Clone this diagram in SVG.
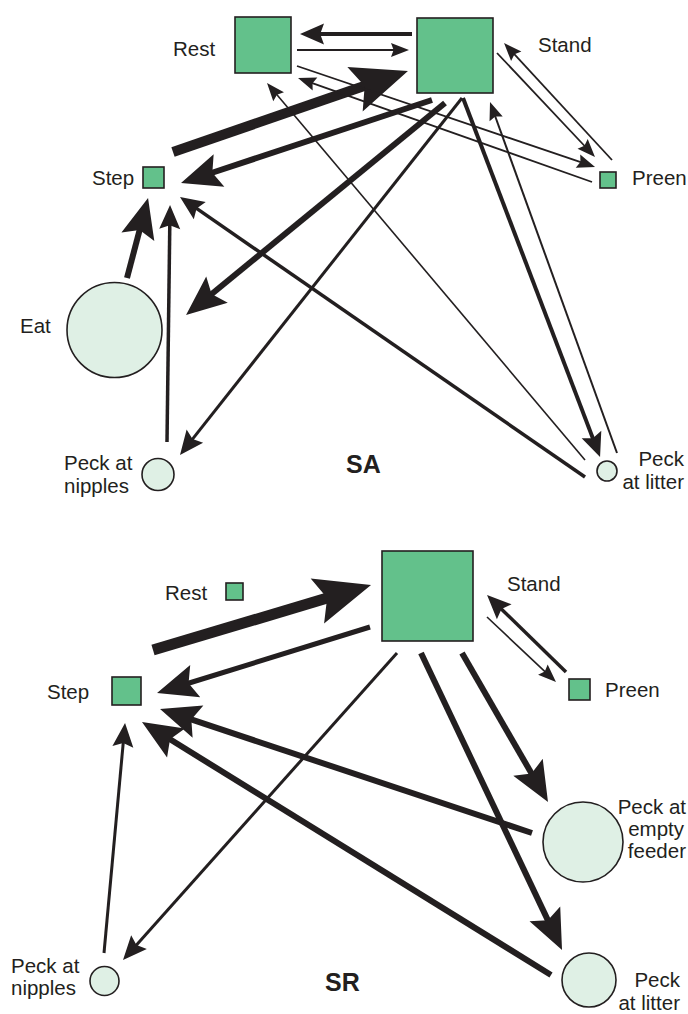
<svg xmlns="http://www.w3.org/2000/svg" width="688" height="1014" viewBox="0 0 688 1014">
<style>
.sq{fill:#63c18b;stroke:#231f20;stroke-width:1.6}
.ci{fill:#dff0e5;stroke:#231f20;stroke-width:1.6}
.lb{font-family:"Liberation Sans",Arial,sans-serif;font-size:20.5px;fill:#231f20}
.ttl{font-family:"Liberation Sans",Arial,sans-serif;font-size:25px;font-weight:bold;fill:#231f20}
.e{text-anchor:end}
.c{fill:none;stroke:#231f20;stroke-linecap:butt}
.h1{marker-end:url(#h1)}
.h2{marker-end:url(#h2)}
.h3{marker-end:url(#h3)}
.h4{marker-end:url(#h4)}
</style>
<defs>
<marker id="h1" markerUnits="userSpaceOnUse" orient="auto" refX="0" refY="0" markerWidth="1" markerHeight="1" overflow="visible"><path d="M44.8,0 L-11.2,-23.5 L-1,0 L-11.2,23.5 Z" fill="#231f20"/></marker>
<marker id="h2" markerUnits="userSpaceOnUse" orient="auto" refX="0" refY="0" markerWidth="1" markerHeight="1" overflow="visible"><path d="M32,0 L-8,-17 L-1,0 L-8,17 Z" fill="#231f20"/></marker>
<marker id="h3" markerUnits="userSpaceOnUse" orient="auto" refX="0" refY="0" markerWidth="1" markerHeight="1" overflow="visible"><path d="M19.2,0 L-4.8,-10.5 L-1,0 L-4.8,10.5 Z" fill="#231f20"/></marker>
<marker id="h4" markerUnits="userSpaceOnUse" orient="auto" refX="0" refY="0" markerWidth="1" markerHeight="1" overflow="visible"><path d="M14.4,0 L-3.6,-7 L-1,0 L-3.6,7 Z" fill="#231f20"/></marker>
</defs>

<g id="connectors">
<!-- SA -->
<path class="c h3" stroke-width="4" d="M412,34 L319.2,34"/>
<path class="c h4" stroke-width="2" d="M297,50 L394.6,50"/>
<path class="c h1" stroke-width="10" d="M173,152 L365.6,85.6"/>
<path class="c h2" stroke-width="6" d="M432,100 L211.4,173"/>
<path class="c h2" stroke-width="6" d="M445,103 L210.8,294.7"/>
<path class="c h3" stroke-width="3" d="M462,98 L191.9,439.9"/>
<path class="c h3" stroke-width="4" d="M463,98 L593.2,439.1"/>
<path class="c h4" stroke-width="2" d="M617,453 L494.9,115.5"/>
<path class="c h4" stroke-width="1.8" d="M497,53 L585.1,146.5"/>
<path class="c h4" stroke-width="1.8" d="M612,160 L513.8,53.6"/>
<path class="c h4" stroke-width="1.8" d="M297,66 L581.4,162.4"/>
<path class="c h4" stroke-width="1.8" d="M592,182 L311.6,82.8"/>
<path class="c h4" stroke-width="1.6" d="M585,460 L276.3,94"/>
<path class="c h3" stroke-width="3.5" d="M585,477 L195.8,207.9"/>
<path class="c h2" stroke-width="6" d="M127,278 L139.9,229"/>
<path class="c h3" stroke-width="3.5" d="M167,442 L169.8,224.2"/>
<!-- SR -->
<path class="c h1" stroke-width="11" d="M153,650 L328.1,597.8"/>
<path class="c h2" stroke-width="5" d="M370,627 L187.6,683.5"/>
<path class="c h2" stroke-width="6" d="M532,833 L190.4,719.1"/>
<path class="c h2" stroke-width="6" d="M551,975 L169.2,738.8"/>
<path class="c h3" stroke-width="3" d="M104,953 L123.3,742.1"/>
<path class="c h3" stroke-width="3" d="M397,653 L135.8,945.7"/>
<path class="c h2" stroke-width="6" d="M421,653 L548.3,921.1"/>
<path class="c h2" stroke-width="6" d="M462,653 L532,774.3"/>
<path class="c h3" stroke-width="3.5" d="M566,672 L500.8,608.4"/>
<path class="c h4" stroke-width="1.6" d="M487,617 L545.5,672.1"/>
</g>

<!-- SA nodes -->
<g id="sa-rest"><rect class="sq" x="235" y="17" width="56" height="56"/><text class="lb" x="173" y="56">Rest</text></g>
<g id="sa-stand"><rect class="sq" x="417" y="18" width="76" height="75"/><text class="lb" x="538" y="52">Stand</text></g>
<g id="sa-preen"><rect class="sq" x="600" y="172" width="16" height="16"/><text class="lb" x="632" y="185">Preen</text></g>
<g id="sa-step"><rect class="sq" x="143" y="167" width="21" height="21"/><text class="lb" x="92" y="185">Step</text></g>
<g id="sa-eat"><circle class="ci" cx="114.5" cy="330" r="47.5"/><text class="lb" x="20" y="333">Eat</text></g>
<g id="sa-nipples"><circle class="ci" cx="158" cy="474.5" r="16"/><text class="lb" x="64" y="470">Peck at</text><text class="lb" x="64" y="493">nipples</text></g>
<g id="sa-litter"><circle class="ci" cx="607" cy="471" r="10"/><text class="lb e" x="684" y="466">Peck</text><text class="lb e" x="684" y="489">at litter</text></g>
<g id="sa-title"><text class="ttl" x="346" y="473">SA</text></g>

<!-- SR nodes -->
<g id="sr-rest"><rect class="sq" x="226" y="583" width="17" height="17"/><text class="lb" x="165" y="600">Rest</text></g>
<g id="sr-stand"><rect class="sq" x="382" y="551" width="91" height="90"/><text class="lb" x="507" y="591">Stand</text></g>
<g id="sr-preen"><rect class="sq" x="569" y="679" width="21" height="21"/><text class="lb" x="605" y="697">Preen</text></g>
<g id="sr-step"><rect class="sq" x="112" y="677" width="29" height="28"/><text class="lb" x="47" y="699">Step</text></g>
<g id="sr-feeder"><circle class="ci" cx="583" cy="842" r="40"/><text class="lb e" x="686" y="814">Peck at</text><text class="lb e" x="684" y="836">empty</text><text class="lb e" x="686" y="858">feeder</text></g>
<g id="sr-litter"><circle class="ci" cx="589" cy="980" r="27"/><text class="lb e" x="680" y="987">Peck</text><text class="lb e" x="680" y="1010">at litter</text></g>
<g id="sr-nipples"><circle class="ci" cx="104.5" cy="981" r="14.5"/><text class="lb" x="11" y="973">Peck at</text><text class="lb" x="11" y="995">nipples</text></g>
<g id="sr-title"><text class="ttl" x="325" y="991">SR</text></g>
</svg>
